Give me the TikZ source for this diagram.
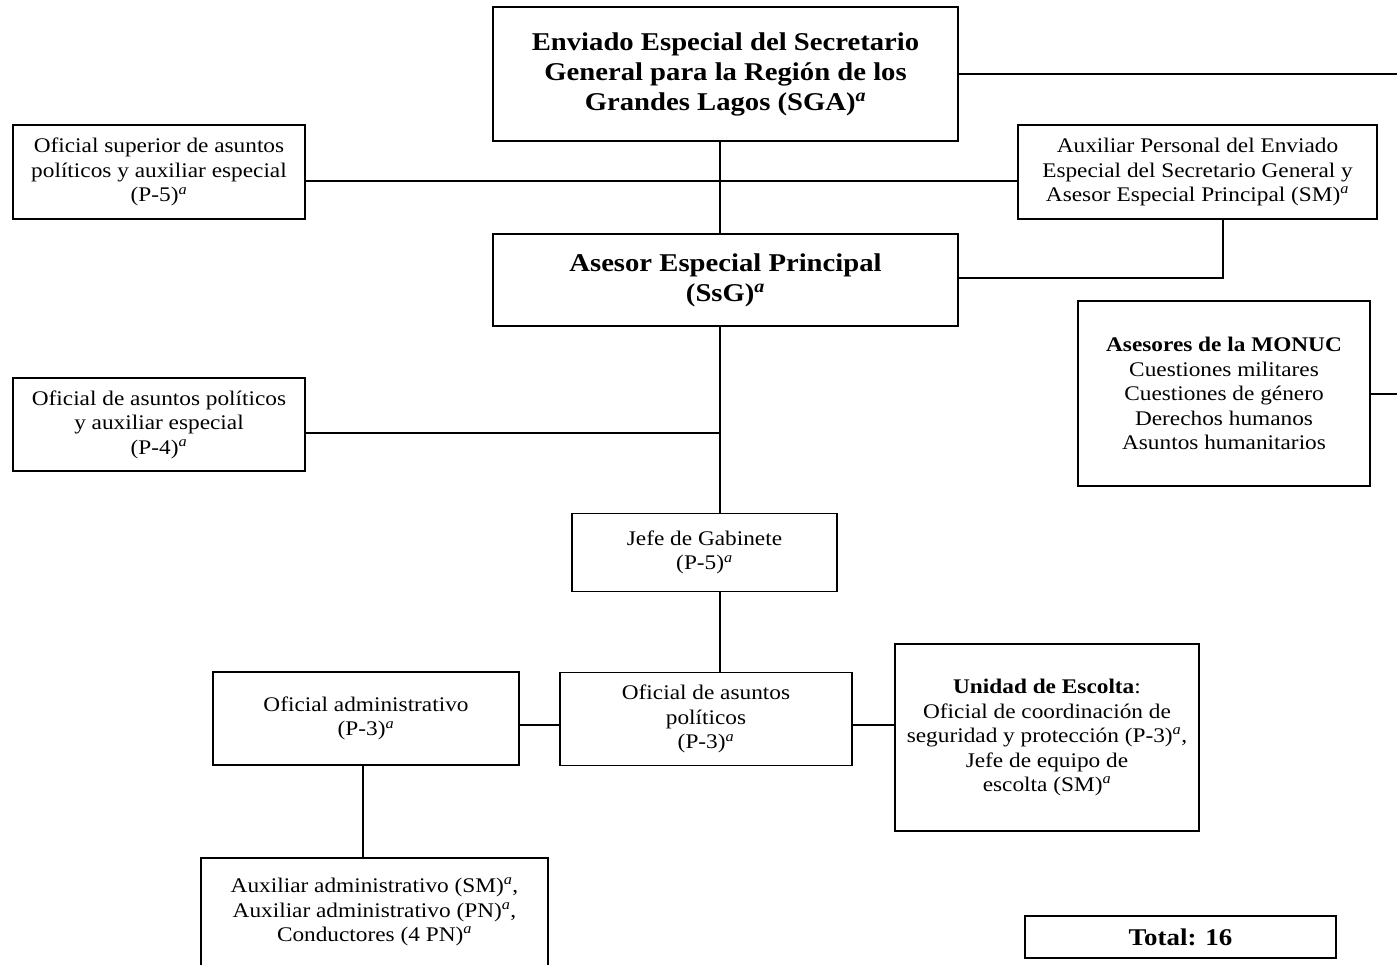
\documentclass[tikz,border=0pt]{standalone}
\usepackage{fontspec}
\setmainfont{Liberation Serif}[FakeStretch=1.12]
\newcommand{\supa}{\textsuperscript{\itshape a}}
\newcommand{\normtxt}{\fontsize{20.8}{24.5}\selectfont}
\newcommand{\bigtxt}{\fontsize{25.6}{30}\selectfont\bfseries}
\begin{document}
\begin{tikzpicture}[x=1pt,y=-1pt,
  box/.style={draw,line width=1.6pt,rectangle,inner sep=0pt,align=center,font=\normtxt},
  bigbox/.style={box,font=\bigtxt},
  plain/.style={inner sep=0pt,align=center,font=\normtxt},
  conn/.style={line width=1.6pt}]
\useasboundingbox (0,0) rectangle (1397,964);
\clip (0,0) rectangle (1397,964);
\node[bigbox,minimum width=465pt,minimum height=134pt] (SGA) at (725.5,74)
  {Enviado Especial del Secretario\\General para la Región de los\\Grandes Lagos (SGA)\supa};
\node[box,minimum width=292pt,minimum height=94pt] (Sup) at (159,172)
  {Oficial superior de asuntos\\políticos y auxiliar especial\\(P-5)\supa};
\node[box,minimum width=359pt,minimum height=94pt] (AuxP) at (1197.5,172)
  {Auxiliar Personal del Enviado\\Especial del Secretario General y\\Asesor Especial Principal (SM)\supa};
\node[bigbox,minimum width=465pt,minimum height=92pt] (SsG) at (725.5,280)
  {Asesor Especial Principal\\(SsG)\supa};
\node[box,minimum width=292pt,minimum height=93pt] (P4) at (159,424.5)
  {Oficial de asuntos políticos\\y auxiliar especial\\(P-4)\supa};
\node[box,minimum width=292pt,minimum height=185pt] (MON) at (1224,393.5)
  {\textbf{Asesores de la MONUC}\\Cuestiones militares\\Cuestiones de género\\Derechos humanos\\Asuntos humanitarios};
\node[box,minimum width=265pt,minimum height=78pt] (Jefe) at (704.5,552.5)
  {Jefe de Gabinete\\(P-5)\supa};
\node[box,minimum width=306pt,minimum height=93pt] (OfAdm) at (366,718.5)
  {Oficial administrativo\\(P-3)\supa};
\node[box,minimum width=292pt,minimum height=93pt] (OfPol) at (706,719)
  {Oficial de asuntos\\políticos\\(P-3)\supa};
\node[box,minimum width=304pt,minimum height=187pt] (Esc) at (1047,737.5)
  {\textbf{Unidad de Escolta}:\\Oficial de coordinación de\\seguridad y protección (P-3)\supa,\\Jefe de equipo de\\escolta (SM)\supa};
\node[box,minimum width=347pt,minimum height=116pt] (AuxAdm) at (374.5,916) {};
\node[plain] (AuxAdmT) at (374.5,912)
  {Auxiliar administrativo (SM)\supa,\\Auxiliar administrativo (PN)\supa,\\Conductores (4 PN)\supa};
\node[box,font=\fontsize{24}{28}\selectfont\bfseries,minimum width=311pt,minimum height=42pt] (Tot) at (1180.5,937) {Total: 16};
% coordinates
\coordinate (spine) at (720,0);
\coordinate (h1) at (0,181);
\coordinate (h2) at (0,433);
\coordinate (h3) at (0,725);
\coordinate (c1) at (1223,278);
\coordinate (e1) at (1400,74);
\coordinate (e2) at (1400,394);
\coordinate (v1) at (363,0);
% connectors
\draw[conn] (SGA.south -| spine) -- (SsG.north -| spine);
\draw[conn] (Sup.east |- h1) -- (AuxP.west |- h1);
\draw[conn] (SGA.east |- e1) -- (e1);
\draw[conn] (AuxP.south -| c1) |- (SsG.east |- c1);
\draw[conn] (SsG.south -| spine) -- (Jefe.north -| spine);
\draw[conn] (P4.east |- h2) -- (spine |- h2);
\draw[conn] (Jefe.south -| spine) -- (OfPol.north -| spine);
\draw[conn] (OfAdm.east |- h3) -- (OfPol.west |- h3);
\draw[conn] (OfPol.east |- h3) -- (Esc.west |- h3);
\draw[conn] (OfAdm.south -| v1) -- (AuxAdm.north -| v1);
\draw[conn] (MON.east |- e2) -- (e2);
\end{tikzpicture}
\end{document}
